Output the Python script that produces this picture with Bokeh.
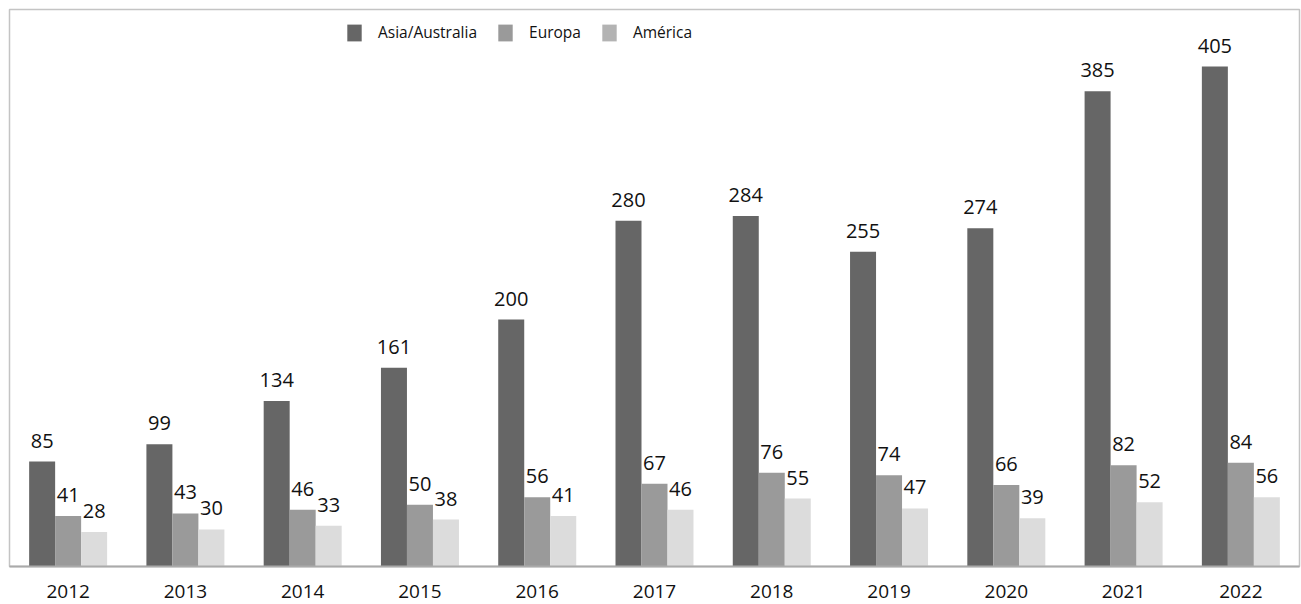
from bokeh.plotting import figure
from bokeh.models import ColumnDataSource, FactorRange, Range1d, Legend, LegendItem
from bokeh.transform import dodge
from bokeh.core.properties import value
from bokeh.embed import file_html
from bokeh.resources import INLINE

years = ["2012", "2013", "2014", "2015", "2016", "2017", "2018", "2019", "2020", "2021", "2022"]
asia = [85, 99, 134, 161, 200, 280, 284, 255, 274, 385, 405]
europa = [41, 43, 46, 50, 56, 67, 76, 74, 66, 82, 84]
america = [28, 30, 33, 38, 41, 46, 55, 47, 39, 52, 56]
series_names = ["Asia/Australia", "Europa", "América"]

FONT = "Open Sans"
c_asia, c_eu, c_am = "#666666", "#9a9a9a", "#dcdcdc"

src = ColumnDataSource(dict(
    year=years, asia=asia, europa=europa, america=america,
    asia_l=[str(v) for v in asia], europa_l=[str(v) for v in europa], america_l=[str(v) for v in america],
))

p = figure(x_range=FactorRange(*years, range_padding=0), y_range=Range1d(0, 451.2),
           width=1301, height=604, output_backend="svg", toolbar_location=None,
           min_border_left=9, min_border_right=2, min_border_top=9, min_border_bottom=38)

w = 0.2217
for key, col, off in [("asia", c_asia, -w), ("europa", c_eu, 0.0), ("america", c_am, w)]:
    p.vbar(x=dodge("year", off, range=p.x_range), top=key, width=w, source=src,
           fill_color=col, line_color=None)
    p.text(x=dodge("year", off, range=p.x_range), y=key, text=key + "_l", source=src,
           text_align="center", text_baseline="alphabetic", y_offset=-21,
           text_font=value(FONT), text_font_size="20px", text_color="#111111")

# legend swatches (zero-height bars, used only for the legend)
leg_colors = [c_asia, c_eu, "#b3b3b3"]
items = []
for name, col in zip(series_names, leg_colors):
    r = p.vbar(x=dodge("year", 0.0, range=p.x_range), top=0, bottom=0, width=w, source=src,
               fill_color=col, line_color=None)
    items.append(LegendItem(label=name, renderers=[r]))
legend = Legend(items=items, orientation="horizontal", location=(336, 523),
                glyph_width=18, glyph_height=21, label_standoff=15, spacing=19,
                padding=0, margin=0, border_line_color=None, background_fill_alpha=0,
                label_text_font=FONT, label_text_font_size="15.5px", label_text_color="#111111")
p.add_layout(legend, "center")

p.xgrid.grid_line_color = None
p.ygrid.grid_line_color = None
p.yaxis.visible = False
p.xaxis.major_tick_line_color = None
p.xaxis.minor_tick_line_color = None
p.xaxis.axis_line_color = "#aaaaaa"
p.xaxis.axis_line_width = 2
p.xaxis.major_label_text_font = FONT
p.xaxis.major_label_text_font_size = "19px"
p.xaxis.major_label_text_color = "#111111"
p.xaxis.major_label_standoff = 12
p.outline_line_color = "#c4c4c4"
p.outline_line_width = 1.5

open("out.html", "w").write(file_html(p, INLINE))
